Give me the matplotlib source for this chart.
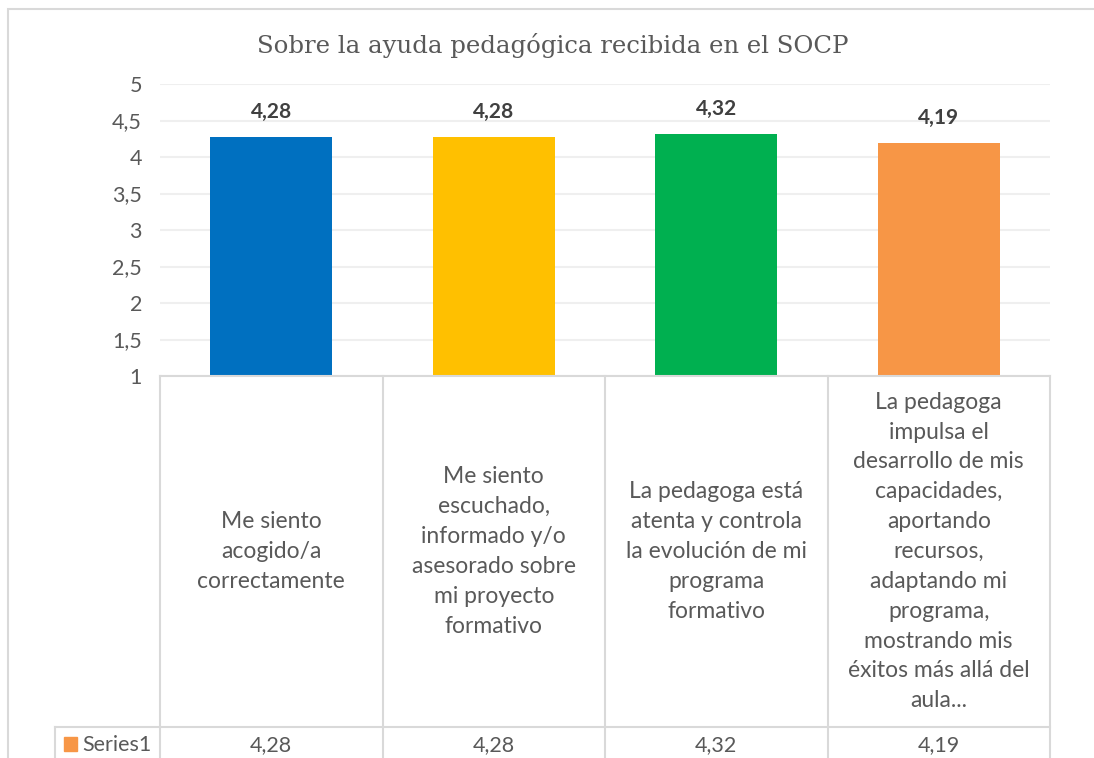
import matplotlib
matplotlib.use("Agg")
import matplotlib.pyplot as plt
from matplotlib.ticker import FuncFormatter, MultipleLocator
from matplotlib.transforms import blended_transform_factory
from matplotlib.patches import Rectangle
from matplotlib.lines import Line2D

# datos
categorias = [
    "Me siento\nacogido/a\ncorrectamente",
    "Me siento\nescuchado,\ninformado y/o\nasesorado sobre\nmi proyecto\nformativo",
    "La pedagoga está\natenta y controla\nla evolución de mi\nprograma\nformativo",
    "La pedagoga\nimpulsa el\ndesarrollo de mis\ncapacidades,\naportando\nrecursos,\nadaptando mi\nprograma,\nmostrando mis\néxitos más allá del\naula...",
]
valores = [4.28, 4.28, 4.32, 4.19]
colores = ["#0070C0", "#FFC000", "#00B050", "#F79646"]
serie = "Series1"
titulo = "Sobre la ayuda pedagógica recibida en el SOCP"

plt.rcParams['font.family'] = ['Lato', 'DejaVu Sans']
W, H = 1094, 758
gris = "#595959"
linea = "#D9D9D9"

def fx(px):
    return px / W

def fy(py):
    return 1 - py / H

def coma(v, pos=None):
    s = ("%g" % v)
    return s.replace(".", ",")

fig = plt.figure(figsize=(W / 100, H / 100), dpi=100)
ax = fig.add_axes([fx(160), fy(376), fx(1050) - fx(160), fy(84) - fy(376)])

x = range(len(valores))
ax.bar(x, [v - 1 for v in valores], bottom=1, width=0.55, color=colores, zorder=3)
for i, v in enumerate(valores):
    ax.annotate(("%.2f" % v).replace(".", ","), (i, v), xytext=(0, 18),
                textcoords="offset points", ha="center", va="center",
                fontsize=15, fontweight="bold", color="#404040")

ax.set_xlim(-0.5, len(valores) - 0.5)
ax.set_ylim(1, 5)
ax.yaxis.set_major_locator(MultipleLocator(0.5))
ax.yaxis.set_major_formatter(FuncFormatter(coma))
ax.grid(axis="y", color="#EFEFEF", linewidth=1.5, zorder=0)
ax.set_xticks([])
ax.tick_params(axis="y", length=0, pad=13, labelsize=15.5, labelcolor=gris)
for s in ["top", "right", "left"]:
    ax.spines[s].set_visible(False)
ax.spines["bottom"].set_color(linea)
ax.spines["bottom"].set_linewidth(1.5)
ax.spines["bottom"].set_zorder(4)

# tabla de datos
tr = blended_transform_factory(ax.transData, fig.transFigure)
y_fila = 727
for b in [i - 0.5 for i in range(len(valores) + 1)]:
    fig.add_artist(Line2D([b, b], [fy(376), fy(H + 5)], transform=tr,
                          color=linea, linewidth=1.5))
fig.add_artist(Line2D([fx(55), fx(1050)], [fy(y_fila), fy(y_fila)],
                      transform=fig.transFigure, color=linea, linewidth=1.5))
fig.add_artist(Line2D([fx(55), fx(55)], [fy(y_fila), fy(H + 5)],
                      transform=fig.transFigure, color=linea, linewidth=1.5))

for i, c in enumerate(categorias):
    fig.text(i, fy((376 + y_fila) / 2), c, transform=tr, ha="center",
             va="center", fontsize=16.5, color=gris, linespacing=1.52)
    fig.text(i, fy(745), ("%.2f" % valores[i]).replace(".", ","),
             transform=tr, ha="center", va="center", fontsize=15.5, color=gris)

fig.add_artist(Rectangle((fx(64), fy(751)), fx(13), fy(737) - fy(751),
                         transform=fig.transFigure, color=colores[3]))
fig.text(fx(82), fy(745), serie, ha="left", va="center", fontsize=15.5, color=gris)

# titulo y borde
fig.text(fx(553), fy(46), titulo, ha="center", va="center",
         fontsize=17.6, color=gris, family="DejaVu Serif")
fig.add_artist(Rectangle((fx(8), fy(H + 10)), fx(W + 10), fy(9) - fy(H + 10),
                         transform=fig.transFigure, fill=False,
                         edgecolor=linea, linewidth=1.5))

fig.savefig("out.png", dpi=100)
